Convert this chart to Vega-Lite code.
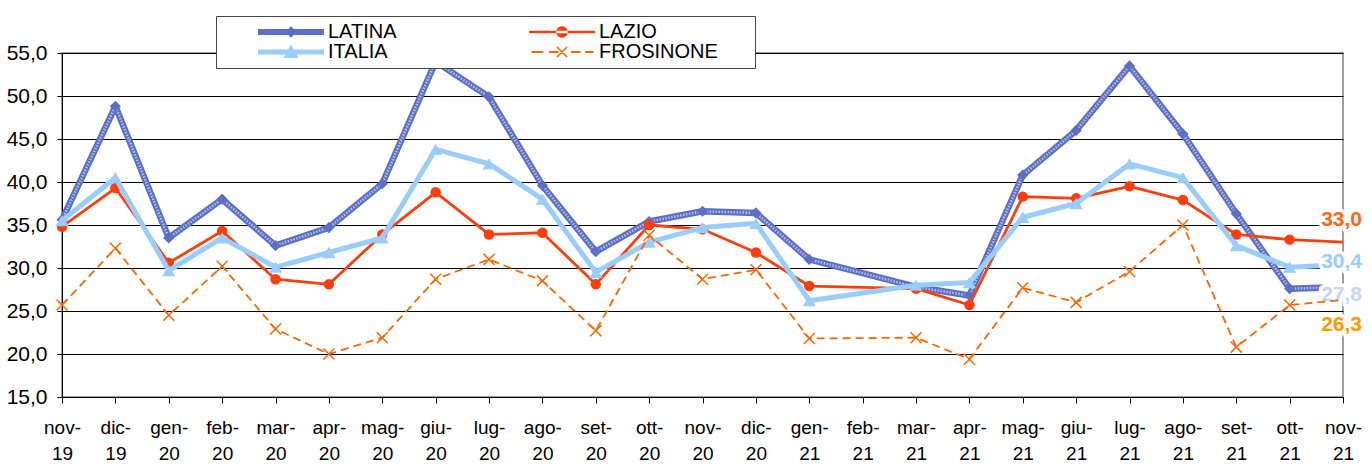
{
  "$schema": "https://vega.github.io/schema/vega-lite/v6.json",
  "width": 1281,
  "height": 344,
  "autosize": {"type": "none"},
  "padding": {"left": 62, "top": 53, "right": 29, "bottom": 70},
  "background": "white",
  "config": {
    "view": {"stroke": "#808080", "strokeWidth": 1.5},
    "font": "Liberation Sans",
    "locale": {"number": {"decimal": ",", "thousands": ".", "grouping": [3], "currency": ["", " €"]}},
    "legend": {
      "orient": "none", "legendX": 154, "legendY": -37, "columns": 2,
      "padding": 6, "fillColor": "white", "strokeColor": "#444",
      "symbolSize": 100, "symbolOffset": 59, "labelOffset": 27, "rowPadding": 0, "columnPadding": 96,
      "labelFontSize": 20, "labelFont": "Liberation Sans", "labelColor": "black", "labelLimit": 400,
      "symbolStrokeWidth": 0, "symbolOpacity": 1
    }
  },
  "data": {"values": [
    {"month": "nov-19", "series": "LATINA", "value": 35.6},
    {"month": "dic-19", "series": "LATINA", "value": 48.8},
    {"month": "gen-20", "series": "LATINA", "value": 33.5},
    {"month": "feb-20", "series": "LATINA", "value": 38.0},
    {"month": "mar-20", "series": "LATINA", "value": 32.6},
    {"month": "apr-20", "series": "LATINA", "value": 34.7},
    {"month": "mag-20", "series": "LATINA", "value": 39.8},
    {"month": "giu-20", "series": "LATINA", "value": 54.0},
    {"month": "lug-20", "series": "LATINA", "value": 49.9},
    {"month": "ago-20", "series": "LATINA", "value": 39.6},
    {"month": "set-20", "series": "LATINA", "value": 31.9},
    {"month": "ott-20", "series": "LATINA", "value": 35.4},
    {"month": "nov-20", "series": "LATINA", "value": 36.6},
    {"month": "dic-20", "series": "LATINA", "value": 36.4},
    {"month": "gen-21", "series": "LATINA", "value": 31.0},
    {"month": "mar-21", "series": "LATINA", "value": 27.8},
    {"month": "apr-21", "series": "LATINA", "value": 26.8},
    {"month": "mag-21", "series": "LATINA", "value": 40.8},
    {"month": "giu-21", "series": "LATINA", "value": 46.0},
    {"month": "lug-21", "series": "LATINA", "value": 53.5},
    {"month": "ago-21", "series": "LATINA", "value": 45.6},
    {"month": "set-21", "series": "LATINA", "value": 36.3},
    {"month": "ott-21", "series": "LATINA", "value": 27.6},
    {"month": "nov-21", "series": "LATINA", "value": 27.8},
    {"month": "nov-19", "series": "LAZIO", "value": 34.8},
    {"month": "dic-19", "series": "LAZIO", "value": 39.3},
    {"month": "gen-20", "series": "LAZIO", "value": 30.6},
    {"month": "feb-20", "series": "LAZIO", "value": 34.3},
    {"month": "mar-20", "series": "LAZIO", "value": 28.7},
    {"month": "apr-20", "series": "LAZIO", "value": 28.1},
    {"month": "mag-20", "series": "LAZIO", "value": 33.9},
    {"month": "giu-20", "series": "LAZIO", "value": 38.8},
    {"month": "lug-20", "series": "LAZIO", "value": 33.9},
    {"month": "ago-20", "series": "LAZIO", "value": 34.1},
    {"month": "set-20", "series": "LAZIO", "value": 28.1},
    {"month": "ott-20", "series": "LAZIO", "value": 35.0},
    {"month": "nov-20", "series": "LAZIO", "value": 34.5},
    {"month": "dic-20", "series": "LAZIO", "value": 31.8},
    {"month": "gen-21", "series": "LAZIO", "value": 27.9},
    {"month": "mar-21", "series": "LAZIO", "value": 27.6},
    {"month": "apr-21", "series": "LAZIO", "value": 25.7},
    {"month": "mag-21", "series": "LAZIO", "value": 38.3},
    {"month": "giu-21", "series": "LAZIO", "value": 38.1},
    {"month": "lug-21", "series": "LAZIO", "value": 39.5},
    {"month": "ago-21", "series": "LAZIO", "value": 37.9},
    {"month": "set-21", "series": "LAZIO", "value": 33.9},
    {"month": "ott-21", "series": "LAZIO", "value": 33.3},
    {"month": "nov-21", "series": "LAZIO", "value": 33.0},
    {"month": "nov-19", "series": "ITALIA", "value": 35.5},
    {"month": "dic-19", "series": "ITALIA", "value": 40.5},
    {"month": "gen-20", "series": "ITALIA", "value": 29.7},
    {"month": "feb-20", "series": "ITALIA", "value": 33.5},
    {"month": "mar-20", "series": "ITALIA", "value": 30.1},
    {"month": "apr-20", "series": "ITALIA", "value": 31.8},
    {"month": "mag-20", "series": "ITALIA", "value": 33.5},
    {"month": "giu-20", "series": "ITALIA", "value": 43.8},
    {"month": "lug-20", "series": "ITALIA", "value": 42.1},
    {"month": "ago-20", "series": "ITALIA", "value": 38.0},
    {"month": "set-20", "series": "ITALIA", "value": 29.5},
    {"month": "ott-20", "series": "ITALIA", "value": 33.0},
    {"month": "nov-20", "series": "ITALIA", "value": 34.7},
    {"month": "dic-20", "series": "ITALIA", "value": 35.2},
    {"month": "gen-21", "series": "ITALIA", "value": 26.2},
    {"month": "mar-21", "series": "ITALIA", "value": 28.0},
    {"month": "apr-21", "series": "ITALIA", "value": 28.3},
    {"month": "mag-21", "series": "ITALIA", "value": 35.9},
    {"month": "giu-21", "series": "ITALIA", "value": 37.5},
    {"month": "lug-21", "series": "ITALIA", "value": 42.1},
    {"month": "ago-21", "series": "ITALIA", "value": 40.5},
    {"month": "set-21", "series": "ITALIA", "value": 32.6},
    {"month": "ott-21", "series": "ITALIA", "value": 30.1},
    {"month": "nov-21", "series": "ITALIA", "value": 30.4},
    {"month": "nov-19", "series": "FROSINONE", "value": 25.7},
    {"month": "dic-19", "series": "FROSINONE", "value": 32.3},
    {"month": "gen-20", "series": "FROSINONE", "value": 24.5},
    {"month": "feb-20", "series": "FROSINONE", "value": 30.2},
    {"month": "mar-20", "series": "FROSINONE", "value": 22.9},
    {"month": "apr-20", "series": "FROSINONE", "value": 20.0},
    {"month": "mag-20", "series": "FROSINONE", "value": 21.9},
    {"month": "giu-20", "series": "FROSINONE", "value": 28.7},
    {"month": "lug-20", "series": "FROSINONE", "value": 31.0},
    {"month": "ago-20", "series": "FROSINONE", "value": 28.5},
    {"month": "set-20", "series": "FROSINONE", "value": 22.7},
    {"month": "ott-20", "series": "FROSINONE", "value": 33.8},
    {"month": "nov-20", "series": "FROSINONE", "value": 28.7},
    {"month": "dic-20", "series": "FROSINONE", "value": 29.8},
    {"month": "gen-21", "series": "FROSINONE", "value": 21.8},
    {"month": "mar-21", "series": "FROSINONE", "value": 21.9},
    {"month": "apr-21", "series": "FROSINONE", "value": 19.4},
    {"month": "mag-21", "series": "FROSINONE", "value": 27.7},
    {"month": "giu-21", "series": "FROSINONE", "value": 26.0},
    {"month": "lug-21", "series": "FROSINONE", "value": 29.6},
    {"month": "ago-21", "series": "FROSINONE", "value": 35.0},
    {"month": "set-21", "series": "FROSINONE", "value": 20.8},
    {"month": "ott-21", "series": "FROSINONE", "value": 25.7},
    {"month": "nov-21", "series": "FROSINONE", "value": 26.3}
  ]},
  "encoding": {
    "x": {
      "field": "month", "type": "ordinal",
      "scale": {"type": "point", "padding": 0, "domain": ["nov-19","dic-19","gen-20","feb-20","mar-20","apr-20","mag-20","giu-20","lug-20","ago-20","set-20","ott-20","nov-20","dic-20","gen-21","feb-21","mar-21","apr-21","mag-21","giu-21","lug-21","ago-21","set-21","ott-21","nov-21"]},
      "axis": {
        "title": null, "labelAngle": 0, "labelFontSize": 19, "labelColor": "black", "labelFont": "Liberation Sans",
        "labelPadding": 15, "tickSize": 6, "tickColor": "black", "domainColor": "black", "grid": false,
        "labelOverlap": false, "labelBaseline": "top", "labelLineHeight": 26,
        "labelExpr": "[split(datum.value, '-')[0] + '-', split(datum.value, '-')[1]]"
      }
    },
    "y": {
      "field": "value", "type": "quantitative",
      "scale": {"domain": [15, 55], "nice": false, "zero": false},
      "axis": {
        "title": null, "values": [15, 20, 25, 30, 35, 40, 45, 50, 55], "format": ".1f",
        "labelFontSize": 21, "labelColor": "black", "labelFont": "Liberation Sans", "labelPadding": 10,
        "tickSize": 5, "tickColor": "black", "domainColor": "black",
        "grid": true, "gridColor": "black", "gridWidth": 1
      }
    },
    "color": {
      "field": "series", "type": "nominal", "title": null,
      "scale": {"domain": ["LATINA", "ITALIA", "LAZIO", "FROSINONE"], "range": ["#5B6FC4", "#99CCFF", "#FF3D0D", "#FF6600"]}
    }
  },
  "layer": [
    {
      "transform": [{"filter": "datum.series === 'LATINA'"}],
      "layer": [
        {"mark": {"type": "line", "strokeWidth": 6.5, "strokeJoin": "round"}},
        {"mark": {"type": "line", "strokeWidth": 2.5, "strokeDash": [1.5, 1.5], "strokeJoin": "round"}, "encoding": {"color": {"value": "#B4BFEA"}}},
        {"transform": [{"filter": "datum.month !== 'nov-21'"}], "mark": {"type": "point", "shape": "diamond", "filled": true, "size": 125, "opacity": 1}},
        {"transform": [{"filter": "datum.month === 'nov-21'"}], "mark": {"type": "text", "align": "right", "baseline": "middle", "dx": 19, "dy": 8, "fontSize": 21, "fontWeight": "bold", "stroke": "white", "strokeWidth": 7, "strokeJoin": "round"}, "encoding": {"text": {"field": "value", "type": "quantitative", "format": ".1f"}, "color": {"value": "white"}}},
        {"transform": [{"filter": "datum.month === 'nov-21'"}], "mark": {"type": "text", "align": "right", "baseline": "middle", "dx": 19, "dy": 8, "fontSize": 21, "fontWeight": "bold"}, "encoding": {"text": {"field": "value", "type": "quantitative", "format": ".1f"}, "color": {"value": "#C6D6F2"}}}
      ]
    },
    {
      "transform": [{"filter": "datum.series === 'LAZIO'"}],
      "layer": [
        {"mark": {"type": "line", "strokeWidth": 2.8, "strokeJoin": "round"}},
        {"transform": [{"filter": "datum.month !== 'nov-21'"}], "mark": {"type": "point", "shape": "circle", "filled": true, "size": 110, "opacity": 1}},
        {"transform": [{"filter": "datum.month === 'nov-21'"}], "mark": {"type": "text", "align": "right", "baseline": "middle", "dx": 19, "dy": -22, "fontSize": 21, "fontWeight": "bold", "stroke": "white", "strokeWidth": 7, "strokeJoin": "round"}, "encoding": {"text": {"field": "value", "type": "quantitative", "format": ".1f"}, "color": {"value": "white"}}},
        {"transform": [{"filter": "datum.month === 'nov-21'"}], "mark": {"type": "text", "align": "right", "baseline": "middle", "dx": 19, "dy": -22, "fontSize": 21, "fontWeight": "bold"}, "encoding": {"text": {"field": "value", "type": "quantitative", "format": ".1f"}, "color": {"value": "#FF6611"}}}
      ]
    },
    {
      "transform": [{"filter": "datum.series === 'ITALIA'"}],
      "layer": [
        {"mark": {"type": "line", "strokeWidth": 5, "strokeJoin": "round", "strokeCap": "round"}},
        {"transform": [{"filter": "datum.month !== 'nov-21'"}], "mark": {"type": "point", "shape": "triangle-up", "filled": true, "size": 170, "opacity": 1}},
        {"transform": [{"filter": "datum.month === 'nov-21'"}], "mark": {"type": "text", "align": "right", "baseline": "middle", "dx": 19, "dy": -3, "fontSize": 21, "fontWeight": "bold", "stroke": "white", "strokeWidth": 7, "strokeJoin": "round"}, "encoding": {"text": {"field": "value", "type": "quantitative", "format": ".1f"}, "color": {"value": "white"}}},
        {"transform": [{"filter": "datum.month === 'nov-21'"}], "mark": {"type": "text", "align": "right", "baseline": "middle", "dx": 19, "dy": -3, "fontSize": 21, "fontWeight": "bold"}, "encoding": {"text": {"field": "value", "type": "quantitative", "format": ".1f"}, "color": {"value": "#99CCFF"}}}
      ]
    },
    {
      "transform": [{"filter": "datum.series === 'FROSINONE'"}],
      "layer": [
        {"mark": {"type": "line", "strokeWidth": 1.8, "strokeDash": [8, 5]}},
        {"transform": [{"filter": "datum.month !== 'nov-21'"}], "mark": {"type": "point", "shape": "M-1,-1L1,1M-1,1L1,-1", "filled": false, "strokeWidth": 1.5, "size": 121, "opacity": 1}},
        {"transform": [{"filter": "datum.month === 'nov-21'"}], "mark": {"type": "text", "align": "right", "baseline": "middle", "dx": 19, "dy": 25, "fontSize": 21, "fontWeight": "bold", "stroke": "white", "strokeWidth": 7, "strokeJoin": "round"}, "encoding": {"text": {"field": "value", "type": "quantitative", "format": ".1f"}, "color": {"value": "white"}}},
        {"transform": [{"filter": "datum.month === 'nov-21'"}], "mark": {"type": "text", "align": "right", "baseline": "middle", "dx": 19, "dy": 25, "fontSize": 21, "fontWeight": "bold"}, "encoding": {"text": {"field": "value", "type": "quantitative", "format": ".1f"}, "color": {"value": "#FF9900"}}}
      ]
    },
    {
      "transform": [{"filter": "false"}],
      "mark": {"type": "point", "filled": true, "opacity": 1},
      "encoding": {
        "shape": {
          "field": "series", "type": "nominal", "title": null,
          "scale": {
            "domain": ["LATINA", "ITALIA", "LAZIO", "FROSINONE"],
            "range": [
              "M-6.6,-0.6H6.6V0.6H-6.6Z M0,-1.15L1.15,0L0,1.15L-1.15,0Z",
              "M-6.6,-0.5H6.6V0.5H-6.6Z M0,-1.5L1.5,1.2L-1.5,1.2Z",
              "M-6.6,-0.25H6.6V0.25H-6.6Z M-1.15,0A1.15,1.15 0 1,0 1.15,0A1.15,1.15 0 1,0 -1.15,0Z",
              "M-6.1,-0.2H-3.8V0.2H-6.1Z M-2.6,-0.2H-0.7V0.2H-2.6Z M1.8,-0.2H3.7V0.2H1.8Z M4.6,-0.2H6.3V0.2H4.6Z M-1.106,-0.894L0.894,1.106L1.106,0.894L-0.894,-1.106Z M-0.894,1.106L1.106,-0.894L0.894,-1.106L-1.106,0.894Z M37.2,-0.005H37.21V0.005H37.2Z"
            ]
          }
        }
      }
    }
  ]
}
